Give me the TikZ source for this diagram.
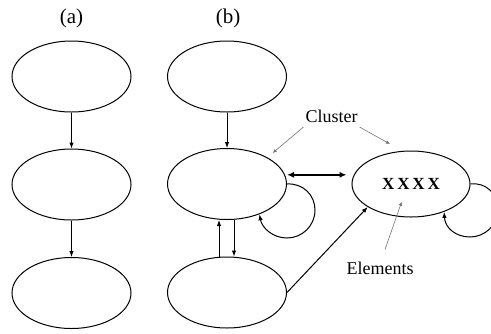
\documentclass[tikz,border=0pt]{standalone}
\usepackage{fontspec}
\setmainfont{Liberation Serif}
\usetikzlibrary{shapes.geometric,arrows.meta}
\begin{document}
\begin{tikzpicture}[x=1pt,y=-1pt,
  oval/.style={draw,ellipse,minimum width=119pt,minimum height=71pt,inner sep=0pt,line width=1pt},
  flow/.style={-{Latex[length=6pt,width=4.5pt]},line width=1pt},
  both/.style={{Latex[length=7pt,width=6pt]}-{Latex[length=7pt,width=6pt]},line width=2pt},
  pointer/.style={-{Latex[length=4pt,width=3.5pt]},line width=0.6pt,draw=black!55},
  lab/.style={font=\fontsize{18}{20}\selectfont,inner sep=1pt},
  head/.style={font=\fontsize{21}{23}\selectfont,inner sep=1pt}]
\useasboundingbox (0,0) rectangle (491,333);
\clip (0,0) rectangle (491,333);
% column (a)
\node[head] (ha) at (71.5,18) {(a)};
\node[oval] (a1) at (71.5,76.5) {};
\node[oval] (a2) at (71.5,184.5) {};
\node[oval] (a3) at (71.5,293) {};
\draw[flow] (a1.south) -- (a2.north);
\draw[flow] (a2.south) -- (a3.north);
% column (b)
\node[head] (hb) at (228,18) {(b)};
\node[oval] (b1) at (227,76.5) {};
\node[oval] (b2) at (227,184) {};
\node[oval] (b3) at (227,292.5) {};
\node[oval,minimum width=118pt,minimum height=66pt,font=\fontsize{17}{18}\selectfont\bfseries] (r) at (411,184) {X\,X\,X\,X};
\draw[flow] (b1.south) -- (b2.north);
\draw[flow] ([xshift=-8pt]b3.north) -- ([xshift=-8pt]b2.south);
\draw[flow] ([xshift=7pt]b2.south) -- ([xshift=7pt]b3.north);
\draw[both] ([xshift=2pt]b2.9) -- ([xshift=-5pt]r.west |- b2.9);
\draw[flow] (b3.east) -- (r.208);
% self loops
\draw[flow] (b2.east) .. controls (303,183) and (315,195) .. (315,210)
  .. controls (315,226) and (302,238) .. (287,238)
  .. controls (273,238) and (262,228) .. (b2.-43);
\draw[flow] (r.east) .. controls (486,182) and (498,194) .. (498,209)
  .. controls (498,225) and (485,237) .. (470,237)
  .. controls (456,237) and (445,228) .. (r.-40);
% labels
\node[lab] (cl) at (331.5,116) {Cluster};
\node[lab] (el) at (380,268) {Elements};
\coordinate (cL) at (272.7,153);
\coordinate (cR) at (390,144);
\coordinate (eX) at (401.7,201.7);
\draw[pointer] ([xshift=-28pt,yshift=-11pt]cl.center) -- (cL);
\draw[pointer] ([xshift=28pt,yshift=-11pt]cl.center) -- (cR);
\draw[pointer] ([xshift=5pt,yshift=11pt]el.north) -- (eX);
\end{tikzpicture}
\end{document}
